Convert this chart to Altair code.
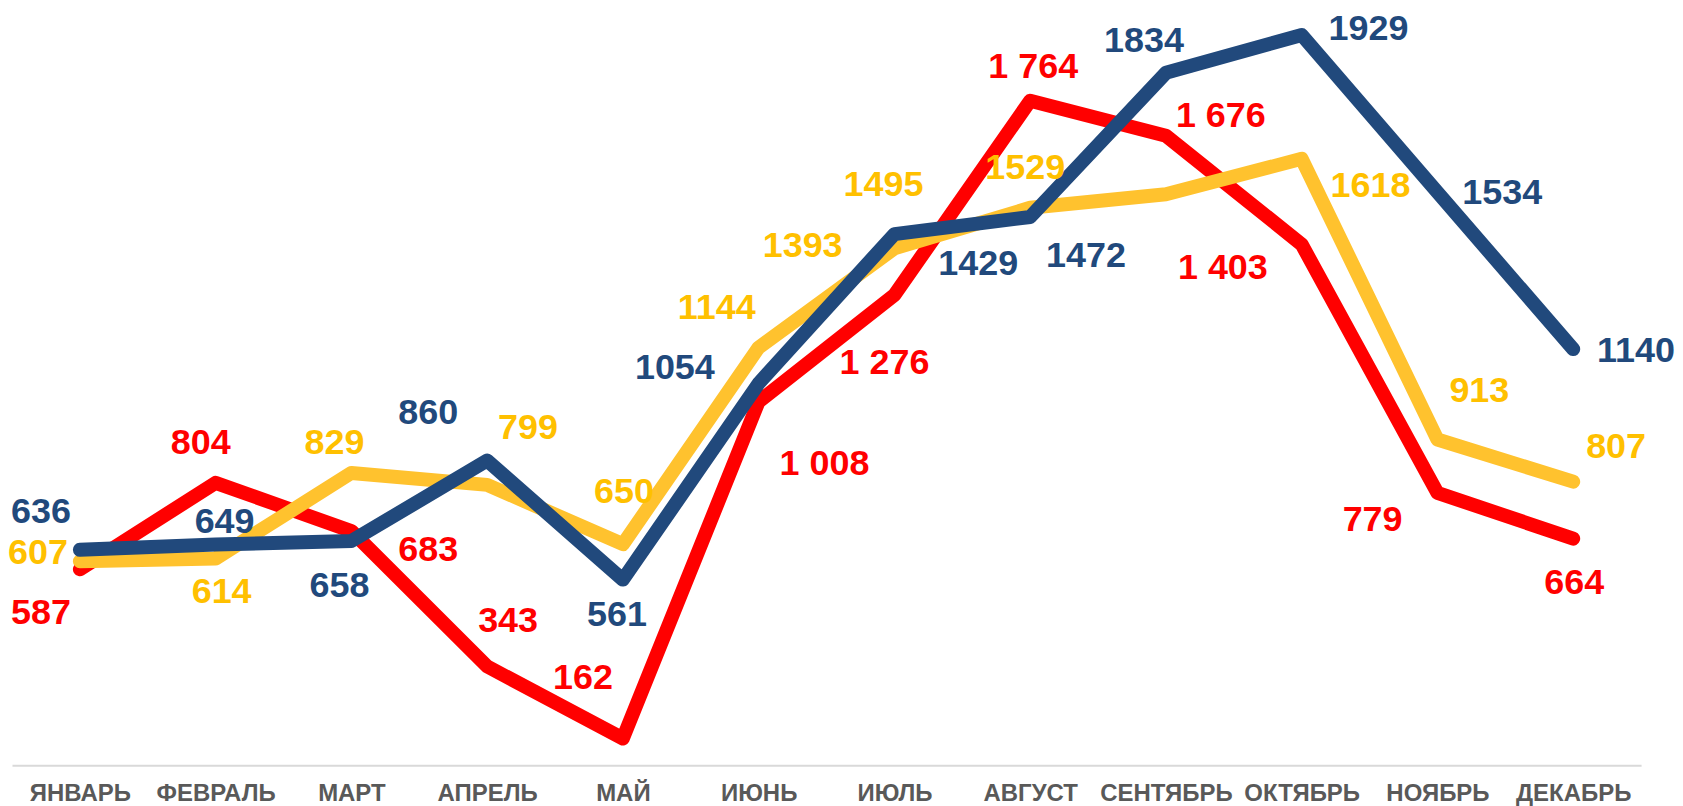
import altair as alt
import pandas as pd

months = ["ЯНВАРЬ", "ФЕВРАЛЬ", "МАРТ", "АПРЕЛЬ", "МАЙ", "ИЮНЬ",
          "ИЮЛЬ", "АВГУСТ", "СЕНТЯБРЬ", "ОКТЯБРЬ", "НОЯБРЬ", "ДЕКАБРЬ"]

red_values = [587, 804, 683, 343, 162, 1008, 1276, 1764, 1676, 1403, 779, 664]
yellow_values = [607, 614, 829, 799, 650, 1144, 1393, 1495, 1529, 1618, 913, 807]
blue_values = [636, 649, 658, 860, 561, 1054, 1429, 1472, 1834, 1929, 1534, 1140]

# label texts
red_labels = [f"{v:,}".replace(",", " ") for v in red_values]
yellow_labels = [str(v) for v in yellow_values]
blue_labels = [str(v) for v in blue_values]

# manual label placement (pixel offsets from each point), as in the original
red_dx = [-39, -15, 77, 21, -40, 66, -10, 3, 55, -79, -65, 1]
red_dy = [44, -40, 19, -45, -61, 62, 68, -34, -20, 24, 27, 45]
yellow_dx = [-42, 6, -17, 41, 1, -42, -92, -147, -141, 69, 42, 43]
yellow_dy = [-8, 34, -30, -57, -52, -40, -2, -23, -26, 27, -49, -35]
blue_dx = [-39, 9, -12, -59, -6, -84, 84, 56, -22, 67, 65, 63]
blue_dy = [-38, -23, 45, -48, 35, -15, 30, 39, -32, -6, 1, 2]

RED = "#FF0000"
YELLOW_LINE = "#FFC22E"
YELLOW_TEXT = "#FFC000"
BLUE = "#21497C"

x_enc = alt.X(
    "month:N",
    sort=months,
    scale=alt.Scale(type="point", padding=0.5),
    axis=alt.Axis(
        title=None, domainColor="#D9D9D9", domainWidth=2, ticks=False,
        labelFont="Liberation Sans", labelFontWeight="bold", labelFontSize=24,
        labelColor="#595959", labelPadding=16, labelAngle=0, grid=False,
        labelOverlap=False,
    ),
)
y_enc = alt.Y("value:Q", scale=alt.Scale(domain=[95, 1994.5], nice=False, zero=False), axis=None)


def series_layers(values, labels, dxs, dys, line_color, text_color):
    df = pd.DataFrame({"month": months, "value": values, "label": labels, "dx": dxs, "dy": dys})
    base = alt.Chart(df)
    line = base.mark_line(strokeWidth=14, strokeCap="round", strokeJoin="round", color=line_color).encode(
        x=x_enc, y=y_enc
    )
    text = base.mark_text(
        font="Liberation Sans", fontWeight="bold", fontSize=36, align="center", baseline="middle",
        color=text_color, dx={"expr": "datum.dx"}, dy={"expr": "datum.dy"},
    ).encode(x=x_enc, y=y_enc, text="label:N")
    return line, text


rl, rt = series_layers(red_values, red_labels, red_dx, red_dy, RED, RED)
yl, yt = series_layers(yellow_values, yellow_labels, yellow_dx, yellow_dy, YELLOW_LINE, YELLOW_TEXT)
bl, bt = series_layers(blue_values, blue_labels, blue_dx, blue_dy, BLUE, BLUE)

chart = alt.layer(rl, yl, bl, rt, yt, bt).properties(
    width=1633, height=758,
    padding={"left": 4, "top": 0, "right": 34, "bottom": 40},
    autosize=alt.AutoSizeParams(type="none"),
).configure_view(stroke=None)

chart.save("out.html", embed_options={"renderer": "svg", "actions": False})
